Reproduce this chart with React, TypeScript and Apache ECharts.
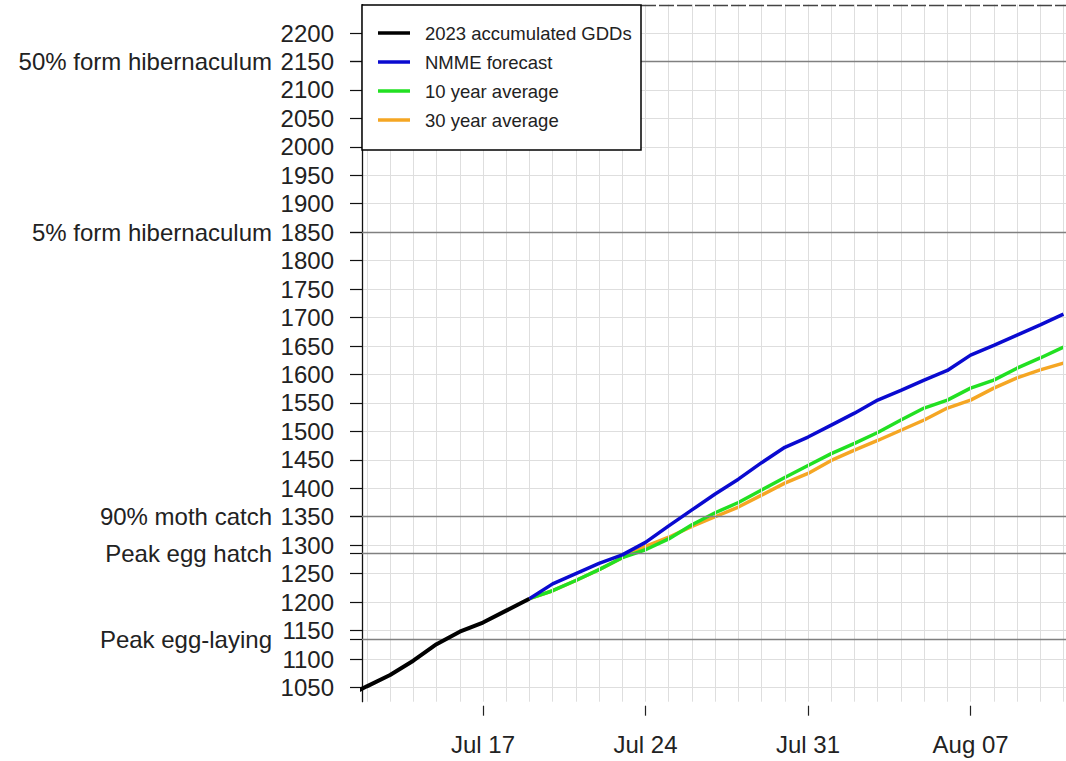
import React, { useEffect, useRef } from "react";
import * as echarts from "echarts";

// ---- data (day numbers are days of July; 32 = Aug 01) ----
const observedDays = [11, 12, 13, 14, 15, 16, 17, 18, 19];
const observedGDD = [1031, 1052, 1072, 1097, 1126, 1148, 1164, 1185, 1206];

const forecastDays = [19, 20, 21, 22, 23, 24, 25, 26, 27, 28, 29, 30, 31, 32, 33, 34, 35, 36, 37, 38, 39, 40, 41, 42];
const nmmeGDD = [1206, 1232, 1250, 1268, 1283, 1305, 1334, 1362, 1390, 1416, 1445, 1472, 1490, 1511, 1532, 1555, 1572, 1590, 1607, 1634, 1651, 1669, 1687, 1706];
const avg10GDD = [1206, 1220, 1238, 1257, 1278, 1292, 1311, 1336, 1357, 1375, 1397, 1419, 1440, 1461, 1479, 1498, 1520, 1541, 1555, 1576, 1590, 1611, 1629, 1648];
const avg30GDD = [1206, 1220, 1238, 1257, 1278, 1298, 1314, 1333, 1350, 1367, 1388, 1409, 1426, 1449, 1467, 1484, 1502, 1520, 1541, 1555, 1576, 1594, 1608, 1620];

const seriesNames = ["2023 accumulated GDDs", "NMME forecast", "10 year average", "30 year average"];
const seriesColors = ["#000000", "#0a0ad0", "#22e022", "#f5a623"];

const xTickDays = [17, 24, 31, 38];
const xTickLabels = ["Jul 17", "Jul 24", "Jul 31", "Aug 07"];

const yTickValues = [1050, 1100, 1150, 1200, 1250, 1300, 1350, 1400, 1450, 1500, 1550, 1600, 1650, 1700, 1750, 1800, 1850, 1900, 1950, 2000, 2050, 2100, 2150, 2200];

const thresholdValues = [1135, 1285, 1350, 1850, 2150];
const thresholdLabels = ["Peak egg-laying", "Peak egg hatch", "90% moth catch", "5% form hibernaculum", "50% form hibernaculum"];

const X_MIN = 11.79;
const X_MAX = 42.11;
const Y_MIN = 1025;
const Y_MAX = 2250;

const FONT = "'Liberation Sans', Arial, sans-serif";

export default function App() {
  const ref = useRef<HTMLDivElement>(null);

  useEffect(() => {
    if (!ref.current) return;
    const chart = echarts.init(ref.current, undefined, { renderer: "svg" });

    const pairs = (xs: number[], ys: number[]) => xs.map((x, i) => [x, ys[i]]);

    const gridDays: number[] = [];
    for (let d = Math.ceil(X_MIN); d <= Math.floor(X_MAX); d++) gridDays.push(d);

    const legendTop = 5;
    const legendRows = [33, 62, 91, 120];

    const legendGraphics: any[] = [
      {
        type: "rect",
        z: 100,
        shape: { x: 362, y: legendTop, width: 279, height: 145 },
        style: { fill: "#ffffff", stroke: "#000000", lineWidth: 1.5 },
      },
    ];
    seriesNames.forEach((name, i) => {
      legendGraphics.push({
        type: "line",
        z: 101,
        shape: { x1: 378, y1: legendRows[i], x2: 410, y2: legendRows[i] },
        style: { stroke: seriesColors[i], lineWidth: 3.5 },
      });
      legendGraphics.push({
        type: "text",
        z: 101,
        x: 425,
        y: legendRows[i],
        style: {
          text: name,
          fill: "#222222",
          font: `18.5px ${FONT}`,
          textVerticalAlign: "middle",
          verticalAlign: "middle",
        },
      });
    });
    legendGraphics.push({
      type: "line",
      z: 99,
      shape: { x1: 641, y1: 5.5, x2: 1066, y2: 5.5 },
      style: { stroke: "#444444", lineWidth: 1.5, lineDash: [15, 3] },
    });

    chart.setOption({
      animation: false,
      backgroundColor: "#ffffff",
      grid: {
        left: 362,
        right: 0,
        top: 4.55,
        bottom: 59.3,
        containLabel: false,
        outerBoundsMode: "none",
      },
      xAxis: {
        type: "value",
        min: X_MIN,
        max: X_MAX,
        offset: 4,
        axisLine: { show: false },
        splitLine: { show: false },
        axisTick: {
          show: true,
          length: 10,
          customValues: xTickDays,
          lineStyle: { color: "#222", width: 1.2 },
        },
        axisLabel: {
          customValues: xTickDays,
          margin: 27,
          fontSize: 24,
          fontFamily: FONT,
          color: "#222",
          formatter: (v: number) => {
            const i = xTickDays.indexOf(Math.round(v));
            return i >= 0 ? xTickLabels[i] : "";
          },
        },
      },
      yAxis: [
        {
          type: "value",
          min: Y_MIN,
          max: Y_MAX,
          interval: 25,
          position: "left",
          axisLine: { show: true, onZero: false, lineStyle: { color: "#111", width: 1.3 } },
          splitLine: { show: true, lineStyle: { color: "#dedede", width: 1 } },
          axisTick: {
            show: true,
            length: 12,
            customValues: [...yTickValues, ...thresholdValues],
            lineStyle: { color: "#111", width: 1.2 },
          },
          axisLabel: {
            customValues: yTickValues,
            margin: 28,
            fontSize: 24,
            fontFamily: FONT,
            color: "#222",
            formatter: (v: number) => String(Math.round(v)),
          },
        },
        {
          type: "value",
          min: Y_MIN,
          max: Y_MAX,
          interval: 25,
          position: "left",
          axisLine: { show: false },
          splitLine: { show: false },
          axisTick: { show: false },
          axisLabel: {
            customValues: thresholdValues,
            margin: 90,
            fontSize: 24,
            fontFamily: FONT,
            color: "#222",
            formatter: (v: number) => {
              const i = thresholdValues.indexOf(Math.round(v));
              return i >= 0 ? thresholdLabels[i] : "";
            },
          },
        },
      ],
      series: [
        {
          type: "line",
          name: "grid",
          data: [],
          z: 1,
          silent: true,
          markLine: {
            silent: true,
            symbol: ["none", "none"],
            label: { show: false },
            lineStyle: { color: "#dedede", width: 1, type: "solid" },
            data: gridDays.map((d) => ({ xAxis: d })),
          },
        },
        {
          type: "line",
          name: "thresholds",
          data: [],
          z: 2,
          silent: true,
          markLine: {
            silent: true,
            symbol: ["none", "none"],
            label: { show: false },
            lineStyle: { color: "#808080", width: 1.3, type: "solid" },
            data: thresholdValues.map((v) => ({ yAxis: v })),
          },
        },
        {
          type: "line",
          name: seriesNames[3],
          data: pairs(forecastDays, avg30GDD),
          showSymbol: false,
          z: 3,
          lineStyle: { color: seriesColors[3], width: 3.5 },
        },
        {
          type: "line",
          name: seriesNames[2],
          data: pairs(forecastDays, avg10GDD),
          showSymbol: false,
          z: 4,
          lineStyle: { color: seriesColors[2], width: 3.5 },
        },
        {
          type: "line",
          name: seriesNames[1],
          data: pairs(forecastDays, nmmeGDD),
          showSymbol: false,
          z: 5,
          lineStyle: { color: seriesColors[1], width: 3.5 },
        },
        {
          type: "line",
          name: seriesNames[0],
          data: pairs(observedDays, observedGDD),
          showSymbol: false,
          z: 6,
          lineStyle: { color: seriesColors[0], width: 4 },
        },
      ],
      graphic: legendGraphics,
    });

    return () => chart.dispose();
  }, []);

  return (
    <div
      ref={ref}
      style={{ position: "fixed", left: 0, top: 0, width: 1066, height: 761, background: "#fff" }}
    />
  );
}
